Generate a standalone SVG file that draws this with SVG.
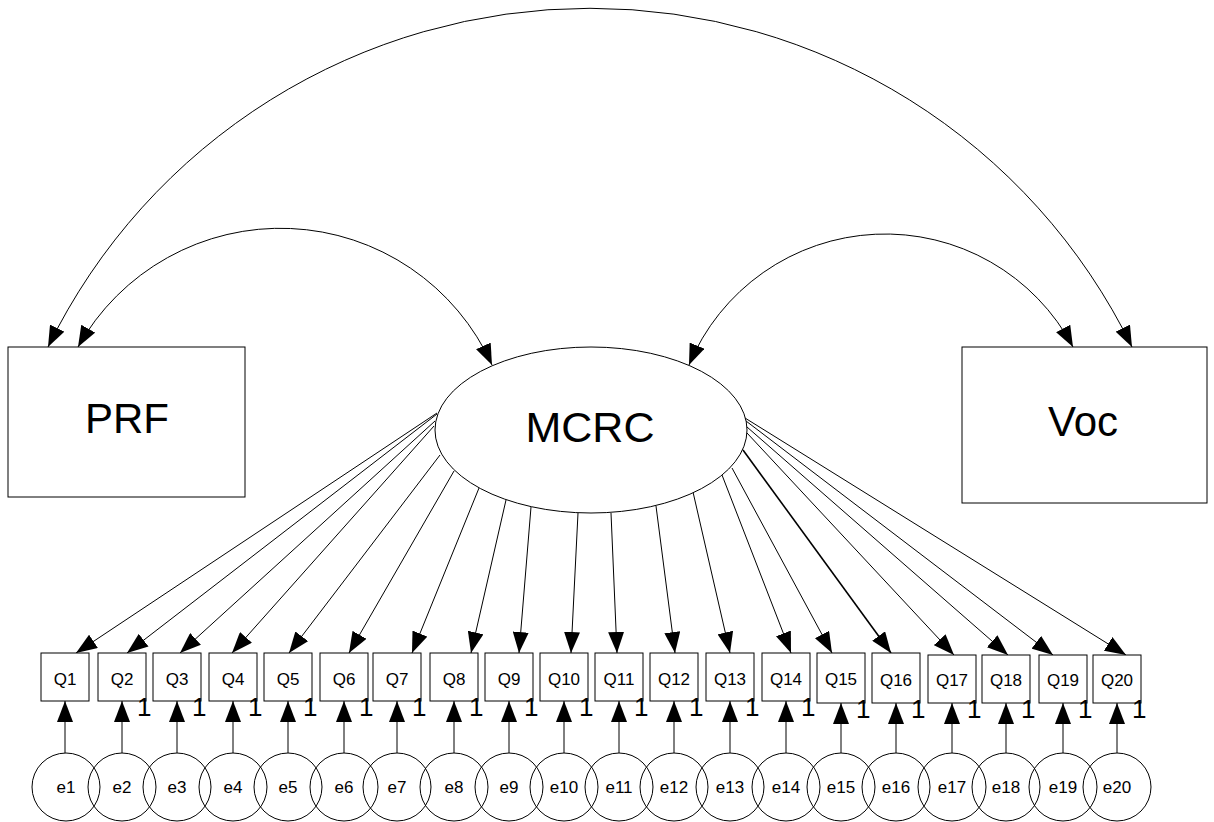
<svg xmlns="http://www.w3.org/2000/svg" width="1214" height="822" viewBox="0 0 1214 822">
<style>
.ln{fill:none;stroke:#000;stroke-width:1}
.bx{fill:#fff;stroke:#000;stroke-width:1}
.ci{fill:none;stroke:#000;stroke-width:1}
.big{font-family:"Liberation Sans",Arial,sans-serif;font-size:42px;text-anchor:middle;fill:#000}
.q{font-family:"Liberation Sans",Arial,sans-serif;font-size:17px;text-anchor:middle;fill:#000}
.one{font-family:"Liberation Sans",Arial,sans-serif;font-size:26px;fill:#000}
</style>
<defs>
<marker id="ah" viewBox="0 0 21 16" refX="21" refY="8" markerWidth="21" markerHeight="16" markerUnits="userSpaceOnUse" orient="auto-start-reverse">
<path d="M0,0 L21,8 L0,16 Z" fill="#000"/>
</marker>
</defs>
<rect width="1214" height="822" fill="#fff"/>
<g id="connectors">
<path class="ln" d="M48,347 A603,603 0 0 1 1132,347" marker-start="url(#ah)" marker-end="url(#ah)"/>
<path class="ln" d="M78,347 A232,232 0 0 1 492,365" marker-start="url(#ah)" marker-end="url(#ah)"/>
<path class="ln" d="M689,365 A212.5,212.5 0 0 1 1073,347" marker-start="url(#ah)" marker-end="url(#ah)"/>
<path class="ln" d="M437,413 L76,653" marker-end="url(#ah)"/>
<path class="ln" d="M437,414 L127,653" marker-end="url(#ah)"/>
<path class="ln" d="M435,421 L180,653" marker-end="url(#ah)"/>
<path class="ln" d="M434,426 L232,653" marker-end="url(#ah)"/>
<path class="ln" d="M440,455 L289,653" marker-end="url(#ah)"/>
<path class="ln" d="M454,471 L349,653" marker-end="url(#ah)"/>
<path class="ln" d="M479,488 L412,653" marker-end="url(#ah)"/>
<path class="ln" d="M506,500 L471,653" marker-end="url(#ah)"/>
<path class="ln" d="M531,507 L519,653" marker-end="url(#ah)"/>
<path class="ln" d="M578,513 L571,653" marker-end="url(#ah)"/>
<path class="ln" d="M611,513 L617,653" marker-end="url(#ah)"/>
<path class="ln" d="M656,506 L675,653" marker-end="url(#ah)"/>
<path class="ln" d="M693,492 L730,653" marker-end="url(#ah)"/>
<path class="ln" d="M722,475 L791,653" marker-end="url(#ah)"/>
<path class="ln" d="M732,468 L832,653" marker-end="url(#ah)"/>
<path class="ln" d="M743,450 L891,653" marker-end="url(#ah)" style="stroke-width:1.6"/>
<path class="ln" d="M747,433 L954,655" marker-end="url(#ah)"/>
<path class="ln" d="M747,427 L1008,655" marker-end="url(#ah)"/>
<path class="ln" d="M746,421 L1053,655" marker-end="url(#ah)"/>
<path class="ln" d="M745,418 L1126,655" marker-end="url(#ah)"/>
<path class="ln" d="M65,753 L65,701" marker-end="url(#ah)"/>
<path class="ln" d="M122,753 L122,701" marker-end="url(#ah)"/>
<path class="ln" d="M177,753 L177,701" marker-end="url(#ah)"/>
<path class="ln" d="M233,753 L233,701" marker-end="url(#ah)"/>
<path class="ln" d="M288,753 L288,701" marker-end="url(#ah)"/>
<path class="ln" d="M344,753 L344,701" marker-end="url(#ah)"/>
<path class="ln" d="M397,753 L397,701" marker-end="url(#ah)"/>
<path class="ln" d="M454,753 L454,701" marker-end="url(#ah)"/>
<path class="ln" d="M509,753 L509,701" marker-end="url(#ah)"/>
<path class="ln" d="M564,753 L564,701" marker-end="url(#ah)"/>
<path class="ln" d="M619,753 L619,701" marker-end="url(#ah)"/>
<path class="ln" d="M674,753 L674,701" marker-end="url(#ah)"/>
<path class="ln" d="M730,753 L730,701" marker-end="url(#ah)"/>
<path class="ln" d="M786,753 L786,701" marker-end="url(#ah)"/>
<path class="ln" d="M841,753 L841,703" marker-end="url(#ah)"/>
<path class="ln" d="M896,753 L896,703" marker-end="url(#ah)"/>
<path class="ln" d="M952,753 L952,703" marker-end="url(#ah)"/>
<path class="ln" d="M1006,753 L1006,703" marker-end="url(#ah)"/>
<path class="ln" d="M1063,753 L1063,703" marker-end="url(#ah)"/>
<path class="ln" d="M1117,753 L1117,703" marker-end="url(#ah)"/>
</g>
<g id="PRF"><rect class="bx" x="8" y="347" width="237" height="150"/><text class="big" x="127" y="433">PRF</text></g>
<g id="Voc"><rect class="bx" x="962" y="347" width="245" height="156"/><text class="big" x="1083" y="436">Voc</text></g>
<g id="MCRC"><ellipse class="bx" cx="591" cy="430" rx="156" ry="83"/><text class="big" x="590" y="442" style="font-size:43px">MCRC</text></g>
<g id="Q1"><rect class="bx" x="41" y="653" width="48" height="48"/><text class="q" x="65" y="685">Q1</text></g>
<g id="Q2"><rect class="bx" x="98" y="653" width="48" height="48"/><text class="q" x="122" y="685">Q2</text><text class="one" x="137" y="716">1</text></g>
<g id="Q3"><rect class="bx" x="153" y="653" width="48" height="48"/><text class="q" x="177" y="685">Q3</text><text class="one" x="192" y="716">1</text></g>
<g id="Q4"><rect class="bx" x="209" y="653" width="48" height="48"/><text class="q" x="233" y="685">Q4</text><text class="one" x="248" y="716">1</text></g>
<g id="Q5"><rect class="bx" x="264" y="653" width="48" height="48"/><text class="q" x="288" y="685">Q5</text><text class="one" x="303" y="716">1</text></g>
<g id="Q6"><rect class="bx" x="320" y="653" width="48" height="48"/><text class="q" x="344" y="685">Q6</text><text class="one" x="359" y="716">1</text></g>
<g id="Q7"><rect class="bx" x="373" y="653" width="48" height="48"/><text class="q" x="397" y="685">Q7</text><text class="one" x="412" y="716">1</text></g>
<g id="Q8"><rect class="bx" x="430" y="653" width="48" height="48"/><text class="q" x="454" y="685">Q8</text><text class="one" x="469" y="716">1</text></g>
<g id="Q9"><rect class="bx" x="485" y="653" width="48" height="48"/><text class="q" x="509" y="685">Q9</text><text class="one" x="524" y="716">1</text></g>
<g id="Q10"><rect class="bx" x="540" y="653" width="48" height="48"/><text class="q" x="564" y="685">Q10</text><text class="one" x="579" y="716">1</text></g>
<g id="Q11"><rect class="bx" x="595" y="653" width="48" height="48"/><text class="q" x="619" y="685">Q11</text><text class="one" x="634" y="716">1</text></g>
<g id="Q12"><rect class="bx" x="650" y="653" width="48" height="48"/><text class="q" x="674" y="685">Q12</text><text class="one" x="689" y="716">1</text></g>
<g id="Q13"><rect class="bx" x="706" y="653" width="48" height="48"/><text class="q" x="730" y="685">Q13</text><text class="one" x="745" y="716">1</text></g>
<g id="Q14"><rect class="bx" x="762" y="653" width="48" height="48"/><text class="q" x="786" y="685">Q14</text><text class="one" x="801" y="716">1</text></g>
<g id="Q15"><rect class="bx" x="817" y="653" width="48" height="50"/><text class="q" x="841" y="685">Q15</text><text class="one" x="856" y="718">1</text></g>
<g id="Q16"><rect class="bx" x="872" y="653" width="48" height="50"/><text class="q" x="896" y="686">Q16</text><text class="one" x="911" y="718">1</text></g>
<g id="Q17"><rect class="bx" x="928" y="655" width="48" height="48"/><text class="q" x="952" y="686">Q17</text><text class="one" x="967" y="718">1</text></g>
<g id="Q18"><rect class="bx" x="982" y="655" width="48" height="48"/><text class="q" x="1006" y="686">Q18</text><text class="one" x="1021" y="718">1</text></g>
<g id="Q19"><rect class="bx" x="1039" y="655" width="48" height="48"/><text class="q" x="1063" y="686">Q19</text><text class="one" x="1078" y="718">1</text></g>
<g id="Q20"><rect class="bx" x="1093" y="655" width="48" height="48"/><text class="q" x="1117" y="686">Q20</text><text class="one" x="1132" y="718">1</text></g>
<g id="e1"><circle class="ci" cx="66" cy="787" r="34"/><text class="q" x="66" y="793">e1</text></g>
<g id="e2"><circle class="ci" cx="122" cy="787" r="34"/><text class="q" x="122" y="793">e2</text></g>
<g id="e3"><circle class="ci" cx="177" cy="787" r="34"/><text class="q" x="177" y="793">e3</text></g>
<g id="e4"><circle class="ci" cx="233" cy="787" r="34"/><text class="q" x="233" y="793">e4</text></g>
<g id="e5"><circle class="ci" cx="288" cy="787" r="34"/><text class="q" x="288" y="793">e5</text></g>
<g id="e6"><circle class="ci" cx="344" cy="787" r="34"/><text class="q" x="344" y="793">e6</text></g>
<g id="e7"><circle class="ci" cx="397" cy="787" r="34"/><text class="q" x="397" y="793">e7</text></g>
<g id="e8"><circle class="ci" cx="454" cy="787" r="34"/><text class="q" x="454" y="793">e8</text></g>
<g id="e9"><circle class="ci" cx="509" cy="787" r="34"/><text class="q" x="509" y="793">e9</text></g>
<g id="e10"><circle class="ci" cx="564" cy="787" r="34"/><text class="q" x="564" y="793">e10</text></g>
<g id="e11"><circle class="ci" cx="619" cy="787" r="34"/><text class="q" x="619" y="793">e11</text></g>
<g id="e12"><circle class="ci" cx="674" cy="787" r="34"/><text class="q" x="674" y="793">e12</text></g>
<g id="e13"><circle class="ci" cx="730" cy="787" r="34"/><text class="q" x="730" y="793">e13</text></g>
<g id="e14"><circle class="ci" cx="786" cy="787" r="34"/><text class="q" x="786" y="793">e14</text></g>
<g id="e15"><circle class="ci" cx="841" cy="787" r="34"/><text class="q" x="841" y="793">e15</text></g>
<g id="e16"><circle class="ci" cx="896" cy="787" r="34"/><text class="q" x="896" y="793">e16</text></g>
<g id="e17"><circle class="ci" cx="952" cy="787" r="34"/><text class="q" x="952" y="793">e17</text></g>
<g id="e18"><circle class="ci" cx="1006" cy="787" r="34"/><text class="q" x="1006" y="793">e18</text></g>
<g id="e19"><circle class="ci" cx="1063" cy="787" r="34"/><text class="q" x="1063" y="793">e19</text></g>
<g id="e20"><circle class="ci" cx="1117" cy="787" r="34"/><text class="q" x="1117" y="793">e20</text></g>
</svg>
